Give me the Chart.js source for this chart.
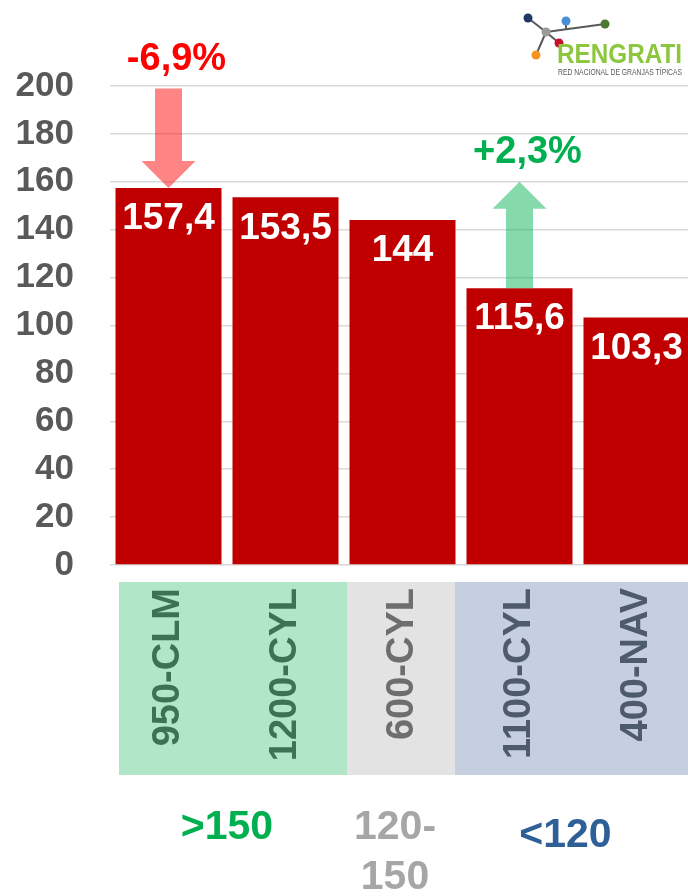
<!DOCTYPE html>
<html><head><meta charset="utf-8">
<script src="https://cdn.jsdelivr.net/npm/chart.js@4.4.1/dist/chart.umd.min.js"></script>
<style>
html,body{margin:0;padding:0;background:#fff;overflow:hidden;width:688px;height:896px;}
#wrap{position:relative;width:695px;height:896px;}
#c{position:absolute;left:0;top:0;}
#logo{position:absolute;left:500px;top:0;}
</style></head><body>
<div id="wrap">
<canvas id="c" width="695" height="896"></canvas>
<svg id="logo" width="188" height="85" viewBox="500 0 188 85" xmlns="http://www.w3.org/2000/svg">
<g stroke="#595959" stroke-width="2">
<line x1="528" y1="18" x2="546" y2="32"/>
<line x1="546" y1="32" x2="605" y2="24"/>
<line x1="566" y1="21" x2="566" y2="29.5"/>
<line x1="546" y1="32" x2="536" y2="55"/>
<line x1="546" y1="32" x2="559" y2="43"/>
</g>
<circle cx="528" cy="18" r="4.5" fill="#1f3864"/>
<circle cx="566" cy="21" r="4.5" fill="#4a8fd6"/>
<circle cx="605" cy="24" r="4.5" fill="#4b7a2c"/>
<circle cx="546" cy="32" r="4.5" fill="#9a9a9a"/>
<circle cx="559" cy="43" r="4.5" fill="#c8102e"/>
<circle cx="536" cy="55" r="4.5" fill="#f7941d"/>
<text x="557" y="63" font-family="Liberation Sans, Arial, sans-serif" font-size="27" font-weight="bold" fill="#8dc63f" textLength="125" lengthAdjust="spacingAndGlyphs">RENGRATI</text>
<text x="558" y="75" font-family="Liberation Sans, Arial, sans-serif" font-size="9" fill="#595959" textLength="124" lengthAdjust="spacingAndGlyphs">RED NACIONAL DE GRANJAS TÍPICAS</text>
</svg>
</div>
<script>
// ---- data ----
const categories = ['950-CLM', '1200-CYL', '600-CYL', '1100-CYL', '400-NAV'];
const values = [157.4, 153.5, 144, 115.6, 103.3];
const valueLabels = ['157,4', '153,5', '144', '115,6', '103,3'];
const yMin = 0, yMax = 200, yStep = 20;
const groupLabels = [['>150'], ['120-', '150'], ['<120']];
const groupStart = [0, 2, 3];
const groupEnd = [1, 2, 4];
const changeLabels = ['-6,9%', '+2,3%'];
const changeIndex = [0, 3];
const changeFrom = [199, 115.6];
const changeTo = [157.4, 160];

// ---- styles ----
const FONT = '"Liberation Sans", Arial, sans-serif';
const bandFill = ['#b2e6c8', '#e3e3e3', '#c5cfdf'];
const bandText = ['#3d7354', '#6e6e6e', '#4d5b6b'];
const bandLeftShift = [9, 3, -6];
const groupColor = ['#00b050', '#a6a6a6', '#2f5f97'];
const groupY = [828, 828, 836];
const changeColor = ['#ff0000', '#00b050'];
const arrowFill = ['rgba(255,0,0,0.48)', 'rgba(0,176,80,0.48)'];
const VISIBLE_RIGHT = 688;

function groupOf(i){ for(let g=0; g<groupStart.length; g++){ if(i>=groupStart[g] && i<=groupEnd[g]) return g; } return 0; }

const overlay = {
  id: 'overlay',
  beforeDraw(chart){
    const {ctx, scales:{x}} = chart;
    const half = x.width / categories.length / 2;
    const lefts = groupStart.map((s, g) => x.getPixelForValue(s) - half + bandLeftShift[g]);
    ctx.save();
    for(let g=0; g<groupStart.length; g++){
      const l = lefts[g];
      const r = g < groupStart.length - 1 ? lefts[g+1] : x.getPixelForValue(groupEnd[g]) + half;
      ctx.fillStyle = bandFill[g];
      ctx.fillRect(l, 582, r-l, 193);
      ctx.fillStyle = groupColor[g];
      ctx.font = 'bold 41px ' + FONT;
      ctx.textAlign = 'center';
      ctx.textBaseline = 'middle';
      groupLabels[g].forEach((t, k) => ctx.fillText(t, (l + Math.min(r, VISIBLE_RIGHT))/2 - 6, groupY[g] + k*50));
    }
    ctx.restore();
  },
  afterDatasetsDraw(chart){
    const {ctx, scales:{x, y}} = chart;
    const meta = chart.getDatasetMeta(0);
    ctx.save();
    ctx.fillStyle = '#ffffff';
    ctx.font = 'bold 37px ' + FONT;
    ctx.textAlign = 'center';
    ctx.textBaseline = 'middle';
    meta.data.forEach((bar, i) => ctx.fillText(valueLabels[i], bar.x, bar.y + 31));
    // arrows
    for(let a=0; a<changeLabels.length; a++){
      const cx = x.getPixelForValue(changeIndex[a]);
      const y0 = y.getPixelForValue(changeFrom[a]);
      const y1 = y.getPixelForValue(changeTo[a]);
      const dir = Math.sign(y1 - y0);
      const headLen = 27, shaftW = 27, headW = 54;
      const yh = y1 - dir*headLen;
      ctx.beginPath();
      ctx.moveTo(cx - shaftW/2, y0);
      ctx.lineTo(cx + shaftW/2, y0);
      ctx.lineTo(cx + shaftW/2, yh);
      ctx.lineTo(cx + headW/2, yh);
      ctx.lineTo(cx, y1);
      ctx.lineTo(cx - headW/2, yh);
      ctx.lineTo(cx - shaftW/2, yh);
      ctx.closePath();
      ctx.fillStyle = arrowFill[a];
      ctx.fill();
      const top = Math.min(y0, y1);
      ctx.fillStyle = changeColor[a];
      ctx.font = 'bold 38px ' + FONT;
      ctx.fillText(changeLabels[a], cx + 8, top - 29);
    }
    ctx.restore();
  }
};

const chart = new Chart(document.getElementById('c'), {
  type: 'bar',
  data: {
    labels: categories,
    datasets: [{ data: values, backgroundColor: '#c00000', borderWidth: 0,
      barPercentage: 0.906, categoryPercentage: 1 }]
  },
  options: {
    responsive: false,
    animation: false,
    layout: { padding: { top: 86, right: 0, left: 0, bottom: 0 } },
    plugins: { legend: { display: false }, tooltip: { enabled: false } },
    scales: {
      x: {
        grid: { display: false, drawTicks: false },
        border: { display: false },
        afterFit: s => { s.height = 331; s.paddingRight = 0; s.paddingLeft = 0; },
        ticks: {
          autoSkip: false, minRotation: 90, maxRotation: 90, padding: 23,
          font: { family: FONT, size: 38, weight: 'bold' },
          color: ctx => bandText[groupOf(ctx.index)]
        }
      },
      y: {
        min: yMin, max: yMax,
        afterFit: s => { s.width = 110; },
        grid: { color: '#d9d9d9', lineWidth: 1.5, drawTicks: false },
        border: { display: false },
        ticks: { stepSize: yStep, padding: 36, color: '#595959',
          font: { family: FONT, size: 35, weight: 'bold' } }
      }
    }
  },
  plugins: [overlay]
});
</script>
</body></html>
